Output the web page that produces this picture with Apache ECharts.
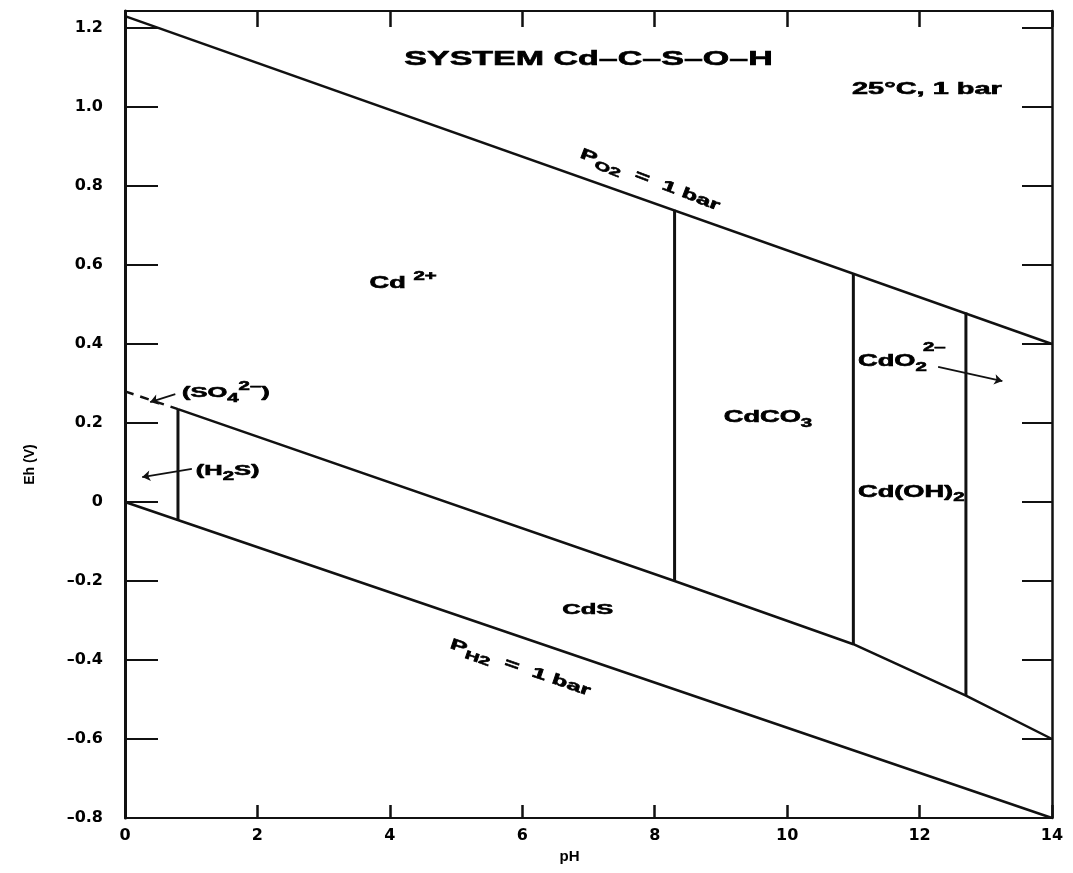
<!DOCTYPE html>
<html><head><meta charset="utf-8">
<script src="https://cdn.jsdelivr.net/npm/echarts@6/dist/echarts.min.js"></script>
<style>html,body{margin:0;padding:0;background:#fff}#chart{width:1073px;height:873px}</style>
</head><body><div id="chart"></div>
<script>
// ---- data ----
const xMin = 0, xMax = 14, xStep = 2;
const yMin = -0.8, yMax = 1.243, yStep = 0.2;
const o2Line = [[0, 1.23], [14, 0.40]];
const h2Line = [[0, 0], [14, -0.8]];
const so4Dashed = [[0, 0.28], [0.8, 0.235]];
const sulfideBoundary = [[0.8, 0.235], [8.3, -0.2], [11.0, -0.36], [12.7, -0.49], [14, -0.6]];
const verticalPH = [0.8, 8.3, 11.0, 12.7];
const verticalTop = [0.235, 0.74, 0.58, 0.48];
const verticalBottom = [-0.047, -0.2, -0.36, -0.49];
const arrowFrom = [[1.01, 0.084], [0.76, 0.273], [12.28, 0.342]];
const arrowTo = [[0.26, 0.063], [0.38, 0.253], [13.25, 0.306]];
const labelText = ['SYSTEM Cd–C–S–O–H', '25°C, 1 bar', 'Cd {sup|2+}', 'CdCO{sub|3}', 'CdO{sub|2}', '2–',
  'Cd(OH){sub|2}', 'CdS', '(SO{sub|4}{sup|2–})', '(H{sub|2}S)', 'P{sub|O2}  =  1 bar', 'P{sub|H2}  =  1 bar'];
const labelX = [7.0, 12.11, 4.2, 9.71, 11.07, 12.05, 11.07, 6.99, 0.86, 1.07, 7.93, 5.97];
const labelY = [1.119, 1.046, 0.554, 0.213, 0.355, 0.39, 0.025, -0.273, 0.276, 0.078, 0.815, -0.42];
const labelAlign = ['center', 'center', 'center', 'center', 'left', 'left', 'left', 'center', 'left', 'left', 'center', 'center'];
const labelSize = [20, 17, 16, 16, 16, 12, 16, 15, 15, 15, 15, 15];
const labelRot = [0, 0, 0, 0, 0, 0, 0, 0, 0, 0, -21, -19];

const FONT = '"Liberation Sans", Arial, sans-serif';
const STRETCH = 1.7;
const RICH = {
  sub: {font: 'bold 12px ' + FONT, fill: '#000', stroke: '#000', lineWidth: 0.6, padding: [11, 0, 0, 0]},
  sup: {font: 'bold 12px ' + FONT, fill: '#000', stroke: '#000', lineWidth: 0.6, padding: [0, 0, 12, 0]}
};

const blk = '#111';
const lineSeries = (data, extra) => Object.assign({
  type: 'line', data: data, symbol: 'none', silent: true,
  lineStyle: {color: blk, width: 2.5}
}, extra || {});

const series = [
  lineSeries(o2Line),
  lineSeries(h2Line),
  lineSeries(sulfideBoundary),
  lineSeries(so4Dashed, {lineStyle: {color: blk, width: 2.5, type: [9, 7]}})
];
verticalPH.forEach((ph, i) => series.push(lineSeries([[ph, verticalTop[i]], [ph, verticalBottom[i]]], {lineStyle: {color: blk, width: 3}})));
series.push({
  type: 'lines', coordinateSystem: 'cartesian2d', silent: true,
  symbol: ['none', 'arrow'], symbolSize: 8,
  lineStyle: {color: blk, width: 1.8, opacity: 1, curveness: 0},
  data: arrowFrom.map((f, i) => ({coords: [f, arrowTo[i]]}))
});
series.push({
  type: 'custom', coordinateSystem: 'cartesian2d', silent: true, z: 10,
  data: labelX.map((x, i) => [x, labelY[i]]),
  renderItem: (params, api) => {
    const i = params.dataIndex;
    const p = api.coord([api.value(0), api.value(1)]);
    return {
      type: 'text', x: p[0], y: p[1], scaleX: STRETCH,
      rotation: labelRot[i] * Math.PI / 180,
      style: {
        text: labelText[i], fill: '#000', stroke: '#000', lineWidth: 0.6,
        font: 'bold ' + labelSize[i] + 'px ' + FONT,
        align: labelAlign[i], verticalAlign: 'middle', rich: RICH
      }
    };
  }
});

const axisFont = {fontFamily: 'DejaVu Sans', fontWeight: 'bold', fontSize: 16, color: '#000'};
const fmtY = v => Math.abs(v) < 1e-9 ? '0' : v.toFixed(1).replace('-', '–');

const option = {
  animation: false,
  backgroundColor: '#fff',
  grid: {left: 125, right: 21, top: 11, bottom: 55, containLabel: false},
  xAxis: [
    {type: 'value', min: xMin, max: xMax, interval: xStep, position: 'bottom',
     name: 'pH', nameLocation: 'middle', nameGap: 30,
     nameTextStyle: {fontFamily: 'Liberation Sans', fontWeight: 'bold', fontSize: 15, color: '#000', padding: [0, 38, 0, 0]},
     axisLine: {onZero: false, lineStyle: {color: blk, width: 2}},
     axisTick: {inside: true, length: 13, lineStyle: {color: blk, width: 2.5}},
     axisLabel: Object.assign({margin: 10}, axisFont),
     splitLine: {show: false}},
    {type: 'value', min: xMin, max: xMax, interval: xStep, position: 'top',
     axisLine: {onZero: false, lineStyle: {color: blk, width: 2}},
     axisTick: {inside: true, length: 16, lineStyle: {color: blk, width: 2.5}},
     axisLabel: {show: false}, splitLine: {show: false}}
  ],
  yAxis: [
    {type: 'value', min: yMin, max: yMax, interval: yStep, position: 'left',
     name: 'Eh (V)', nameLocation: 'middle', nameGap: 88, nameRotate: 90,
     nameTextStyle: {fontFamily: 'Liberation Sans', fontWeight: 'bold', fontSize: 14, color: '#000', padding: [0, 100, 0, 0]},
     axisLine: {onZero: false, lineStyle: {color: blk, width: 3}},
     axisTick: {inside: true, length: 33, lineStyle: {color: blk, width: 2}},
     axisLabel: Object.assign({margin: 22, formatter: fmtY, showMaxLabel: false}, axisFont),
     splitLine: {show: false}},
    {type: 'value', min: yMin, max: yMax, interval: yStep, position: 'right',
     axisLine: {onZero: false, lineStyle: {color: blk, width: 2.5}},
     axisTick: {inside: true, length: 30, lineStyle: {color: blk, width: 2}},
     axisLabel: {show: false}, splitLine: {show: false}}
  ],
  series: series
};
const chart = echarts.init(document.getElementById('chart'), null, {renderer: 'canvas'});
chart.setOption(option);
</script></body></html>
